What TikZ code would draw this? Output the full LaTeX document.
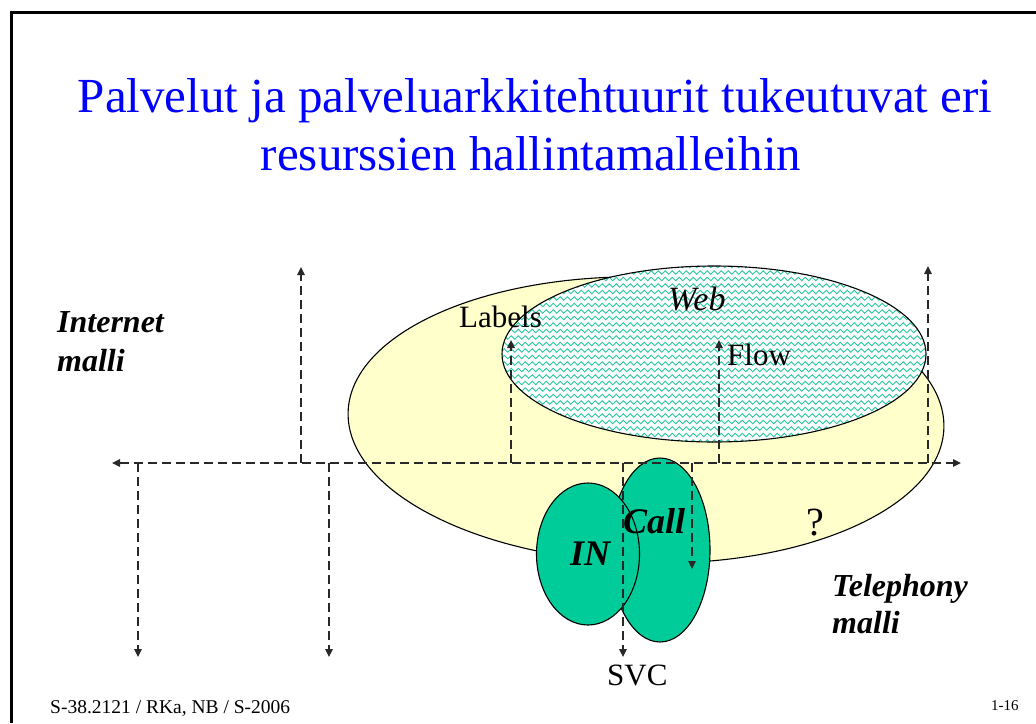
\documentclass[tikz,border=0pt]{standalone}
\usepackage{fontspec}
\setmainfont{Liberation Serif}
\usetikzlibrary{arrows.meta,decorations.pathmorphing,shapes.geometric}
\definecolor{ttl}{RGB}{0,0,255}
\definecolor{yel}{RGB}{255,255,204}
\definecolor{grn}{RGB}{0,204,153}
\definecolor{wav}{RGB}{40,200,160}
\definecolor{dsh}{RGB}{40,40,40}
\begin{document}
\begin{tikzpicture}[x=1pt,y=-1pt,
  txt/.style={inner sep=0pt,anchor=base west},
  lbl/.style={txt,font=\fontsize{31}{36}\selectfont},
  bi/.style={txt,font=\fontsize{32}{38}\selectfont\bfseries\itshape},
  bigbi/.style={txt,font=\fontsize{36}{40}\selectfont\bfseries\itshape},
  dl/.style={draw=dsh,line width=1.4pt,dash pattern=on 9pt off 5pt},
  tip/.style={-{Triangle[length=8pt,width=7.5pt]}},
  oval/.style={ellipse,draw=black,line width=1.1pt,inner sep=0pt},
  wave/.style={draw=wav,line width=0.9pt,decorate,decoration={snake,amplitude=1.7pt,segment length=7pt}}]
\useasboundingbox (0,0) rectangle (1036,723);
\fill[white] (0,0) rectangle (1036,723);
% frame
\draw[black,line width=3pt] (11,723) -- (11,12) -- (1036,12);
% title
\node[txt,anchor=base,text=ttl,font=\fontsize{49}{58}\selectfont] (t1) at (535,112) {Palvelut ja palveluarkkitehtuurit tukeutuvat eri};
\node[txt,anchor=base,text=ttl,font=\fontsize{49}{58}\selectfont] (t2) at (531,170) {resurssien hallintamalleihin};
% yellow ellipse
\node[oval,fill=yel,minimum width=596pt,minimum height=286pt,rotate=-1.5] (yell) at (646,420) {};
% web ellipse
\fill[white] (714,354) ellipse [x radius=212pt,y radius=88pt];
\begin{scope}
\clip (714,354) ellipse [x radius=212pt,y radius=88pt];
\foreach \yy in {266,272.5,...,446} \draw[wave] (495,\yy) -- (935,\yy);
\end{scope}
\node[oval,minimum width=424pt,minimum height=176pt] (web) at (714,354) {};
% green ellipses
\node[oval,fill=grn,minimum width=100pt,minimum height=184pt] (call) at (660,550) {};
\node[oval,fill=grn,minimum width=103pt,minimum height=142pt] (in) at (588,554) {};
% dashed axis and arrows
\coordinate (axL) at (112,463);
\coordinate (axR) at (961,463);
\draw[dl,{Triangle[length=8pt,width=7.5pt]}-{Triangle[length=8pt,width=7.5pt]}] (axL) -- (axR);
\coordinate (u1b) at (301,463); \coordinate (u1t) at (301,267);
\coordinate (u2b) at (511,463); \coordinate (u2t) at (511,340);
\coordinate (u3b) at (719,463); \coordinate (u3t) at (719,340);
\coordinate (u4b) at (928,463); \coordinate (u4t) at (928,266);
\coordinate (d1t) at (138,463); \coordinate (d1b) at (138,657);
\coordinate (d2t) at (329,463); \coordinate (d2b) at (329,657);
\coordinate (d3t) at (623,463); \coordinate (d3b) at (623,657);
\coordinate (d4t) at (692,463); \coordinate (d4b) at (692,569);
\foreach \a/\b in {u1b/u1t,u2b/u2t,u3b/u3t,u4b/u4t,d1t/d1b,d2t/d2b,d3t/d3b,d4t/d4b}
  \draw[dl,tip] (\a) -- (\b);
% labels
\node[lbl] (labels) at (459,327) {Labels};
\node[txt,font=\fontsize{34}{40}\selectfont\itshape] (webl) at (668,310) {Web};
\node[lbl] (flow) at (727,365) {Flow};
\node[bigbi] (calll) at (623,533) {Call};
\node[bigbi] (inl) at (570,565) {IN};
\node[txt,font=\fontsize{40}{44}\selectfont] (q) at (806,535) {?};
\node[lbl] (svc) at (607,685) {SVC};
\node[bi] (int1) at (57,332) {Internet};
\node[bi] (int2) at (57,371) {malli};
\node[bi] (tel1) at (832,596) {Telephony};
\node[bi] (tel2) at (832,633) {malli};
% footer
\node[txt,font=\fontsize{19.5}{22}\selectfont] (foot) at (50,713) {S-38.2121 / RKa, NB / S-2006};
\node[txt,font=\fontsize{15}{18}\selectfont] (pg) at (991,710) {1-16};
\end{tikzpicture}
\end{document}
